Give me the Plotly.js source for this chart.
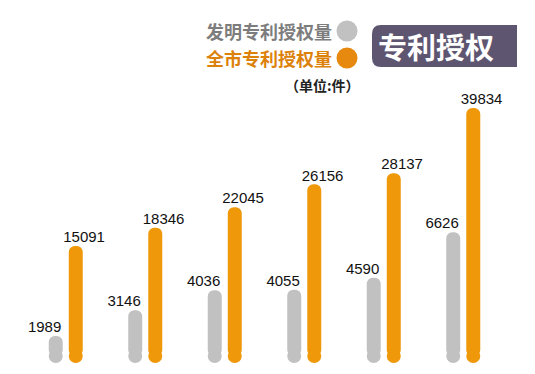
<!DOCTYPE html>
<html>
<head>
<meta charset="utf-8">
<script src="https://cdn.plot.ly/plotly-3.0.1.min.js"></script>
<style>
html,body{margin:0;padding:0;background:#fff;}
#chart{width:535px;height:374px;}
</style>
</head>
<body>
<div id="chart"></div>
<script>
// Data
const categories = [0, 1, 2, 3, 4, 5];           // six periods (unlabelled in the source)
const inventionGrants = [1989, 3146, 4036, 4055, 4590, 6626];      // 发明专利授权量
const cityGrants = [15091, 18346, 22045, 26156, 28137, 39834];     // 全市专利授权量
const legendLabels = ['发明专利授权量', '全市专利授权量'];
const unitLabel = '（单位:件）';
const titleText = '专利授权';

// Styles / layout constants
const GREY = '#c1c1c1', ORANGE = '#ef980a';
const OFF = 0.126, BW = 0.176, LBL = 0.14;
const GREY_BASE = 1098, ORANGE_BASE = -4623;

const greyX = categories.map(c => c - OFF);
const orangeX = categories.map(c => c + OFF);

const traces = [
  { type: 'bar', x: greyX, y: inventionGrants.map(v => v - GREY_BASE), base: GREY_BASE,
    width: BW, yaxis: 'y2', marker: { color: GREY, cornerradius: '50%' }, hoverinfo: 'skip' },
  { type: 'scatter', mode: 'markers', x: greyX, y: categories.map(() => GREY_BASE), yaxis: 'y2',
    marker: { color: GREY, size: 14 }, cliponaxis: false, hoverinfo: 'skip' },
  { type: 'bar', x: orangeX, y: cityGrants.map(v => v - ORANGE_BASE), base: ORANGE_BASE,
    width: BW, yaxis: 'y', marker: { color: ORANGE, cornerradius: '50%' }, hoverinfo: 'skip' },
  { type: 'scatter', mode: 'markers', x: orangeX, y: categories.map(() => ORANGE_BASE), yaxis: 'y',
    marker: { color: ORANGE, size: 14 }, cliponaxis: false, hoverinfo: 'skip' },
  { type: 'scatter', mode: 'text', x: greyX.map(x => x - LBL), y: inventionGrants, yaxis: 'y2',
    text: inventionGrants.map(String), textposition: 'top center', cliponaxis: false,
    textfont: { family: 'Liberation Sans, Arial, sans-serif', size: 15, color: '#111' }, hoverinfo: 'skip' },
  { type: 'scatter', mode: 'text', x: orangeX.map(x => x + LBL * 0.75), y: cityGrants, yaxis: 'y',
    text: cityGrants.map(String), textposition: 'top center', cliponaxis: false,
    textfont: { family: 'Liberation Sans, Arial, sans-serif', size: 15, color: '#111' }, hoverinfo: 'skip' }
];

const cjk = 'Noto Sans CJK SC, sans-serif';
const layout = {
  width: 535, height: 374,
  margin: { l: 26, r: 32, t: 0, b: 10 },
  paper_bgcolor: '#fff', plot_bgcolor: '#fff',
  showlegend: false,
  xaxis: { range: [-0.5, 5.5], visible: false, fixedrange: true },
  yaxis: { range: [-6057, 59176], visible: false, fixedrange: true },
  yaxis2: { range: [741, 16991], visible: false, overlaying: 'y', fixedrange: true },
  shapes: [
    { type: 'path', xref: 'paper', yref: 'paper', layer: 'above',
      path: '', fillcolor: '#5e5570', line: { width: 0 } },
    { type: 'circle', xref: 'paper', yref: 'paper', fillcolor: GREY, line: { width: 0 } },
    { type: 'circle', xref: 'paper', yref: 'paper', fillcolor: '#e8890f', line: { width: 0 } }
  ],
  annotations: [
    { text: '<b>' + legendLabels[0] + '</b>', xref: 'paper', yref: 'paper', showarrow: false,
      xanchor: 'right', yanchor: 'middle', font: { family: cjk, size: 18, color: '#7d7d7d' } },
    { text: '<b>' + legendLabels[1] + '</b>', xref: 'paper', yref: 'paper', showarrow: false,
      xanchor: 'right', yanchor: 'middle', font: { family: cjk, size: 18, color: '#dc820b' } },
    { text: '<b>' + unitLabel + '</b>', xref: 'paper', yref: 'paper', showarrow: false,
      xanchor: 'center', yanchor: 'middle', font: { family: cjk, size: 14, color: '#222' } },
    { text: '<b>' + titleText + '</b>', xref: 'paper', yref: 'paper', showarrow: false,
      xanchor: 'center', yanchor: 'middle', font: { family: cjk, size: 29, color: '#fff' } }
  ]
};

// convert page pixels to paper coordinates
const PL = 26, PW = 535 - 26 - 32, PT = 0, PH = 374 - 10;
const px = x => (x - PL) / PW;
const py = y => 1 - (y - PT) / PH;

// title box with rounded left corners
(function () {
  const x0 = 372, x1 = 517, y0 = 25, y1 = 67, r = 9;
  layout.shapes[0].path =
    `M ${px(x0 + r)} ${py(y0)} L ${px(x1)} ${py(y0)} L ${px(x1)} ${py(y1)} L ${px(x0 + r)} ${py(y1)} ` +
    `Q ${px(x0)} ${py(y1)} ${px(x0)} ${py(y1 - r)} L ${px(x0)} ${py(y0 + r)} Q ${px(x0)} ${py(y0)} ${px(x0 + r)} ${py(y0)} Z`;
})();
function circ(s, cx, cy, rad) { s.x0 = px(cx - rad); s.x1 = px(cx + rad); s.y0 = py(cy + rad); s.y1 = py(cy - rad); }
circ(layout.shapes[1], 347, 31, 10.5);
circ(layout.shapes[2], 347, 58, 10.5);
const A = layout.annotations;
A[0].x = px(334); A[0].y = py(31);
A[1].x = px(334); A[1].y = py(58);
A[2].x = px(322); A[2].y = py(85);
A[3].x = px(436); A[3].y = py(46);

Plotly.newPlot('chart', traces, layout, { staticPlot: true, displayModeBar: false });
</script>
</body>
</html>
